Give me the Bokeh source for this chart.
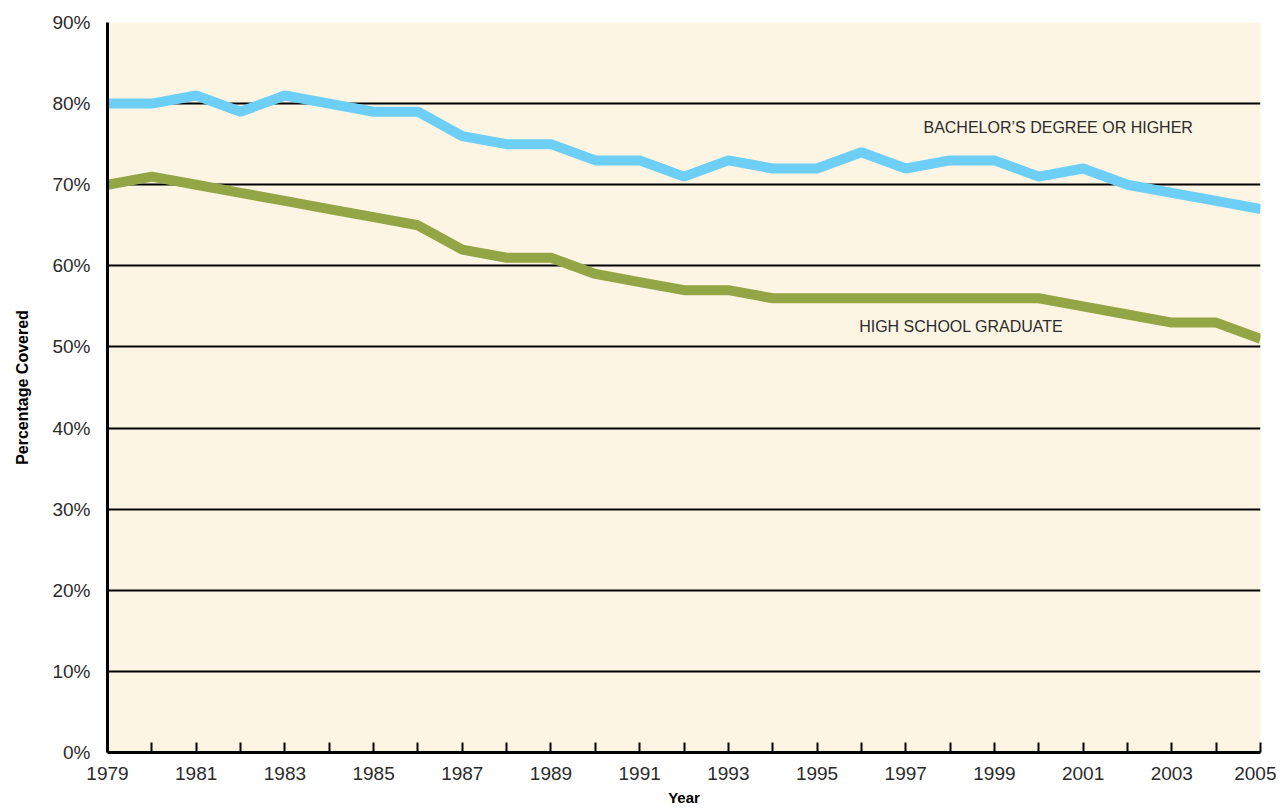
from bokeh.plotting import figure
from bokeh.models import FixedTicker, ColumnDataSource
from bokeh.embed import file_html
from bokeh.resources import INLINE
from bokeh.core.properties import value

years = list(range(1979, 2006))
bachelors = [80, 80, 81, 79, 81, 80, 79, 79, 76, 75, 75, 73, 73, 71, 73, 72, 72, 74, 72, 73, 73, 71, 72, 70, 69, 68, 67]
high_school = [70, 71, 70, 69, 68, 67, 66, 65, 62, 61, 61, 59, 58, 57, 57, 56, 56, 56, 56, 56, 56, 56, 55, 54, 53, 53, 51]
y_ticks = [0, 10, 20, 30, 40, 50, 60, 70, 80, 90]
series_labels = ["BACHELOR\u2019S DEGREE OR HIGHER", "HIGH SCHOOL GRADUATE"]

FONT = "Liberation Sans"
TXT = "#2b2b2b"

p = figure(width=1276, height=812, output_backend="svg", toolbar_location=None,
           x_range=(1979, 2005), y_range=(0, 90),
           min_border_left=107, min_border_right=16, min_border_top=22, min_border_bottom=60)
p.background_fill_color = "#fdf5e4"
p.border_fill_color = "white"
p.outline_line_color = None

src = ColumnDataSource(dict(year=years, ba=bachelors, hs=high_school))
p.line("year", "ba", source=src, line_color="#6dcff6", line_width=10)
p.line("year", "hs", source=src, line_color="#94a545", line_width=10)

p.text(x=[1997.4], y=[77.1], text=[series_labels[0]], text_font=value(FONT),
       text_font_size="16px", text_color=TXT, text_align="left", text_baseline="middle")
p.text(x=[1995.95], y=[52.5], text=[series_labels[1]], text_font=value(FONT),
       text_font_size="16px", text_color=TXT, text_align="left", text_baseline="middle")

# grid
p.xgrid.grid_line_color = None
p.ygrid.ticker = FixedTicker(ticks=y_ticks)
p.ygrid.grid_line_color = "black"
p.ygrid.grid_line_width = 2

# x axis
xa = p.xaxis[0]
xa.ticker = FixedTicker(ticks=years)
xa.major_label_overrides = {y: (str(y) if (y - 1979) % 2 == 0 else "") for y in years}
xa.major_tick_in = 10
xa.major_tick_out = 0
xa.minor_tick_line_color = None
xa.major_tick_line_width = 2
xa.axis_line_width = 3
xa.axis_line_color = "black"
xa.major_tick_line_color = "black"
xa.major_label_text_font = FONT
xa.major_label_text_font_size = "19px"
xa.major_label_text_color = TXT
xa.major_label_standoff = 14
xa.axis_label = "Year"
xa.axis_label_text_font = FONT
xa.axis_label_text_font_style = "bold"
xa.axis_label_text_font_size = "15px"
xa.axis_label_text_color = "black"
xa.axis_label_standoff = 6

# y axis
ya = p.yaxis[0]
ya.ticker = FixedTicker(ticks=y_ticks)
ya.major_label_overrides = {t: f"{t}%" for t in y_ticks}
ya.major_tick_in = 0
ya.major_tick_out = 0
ya.minor_tick_line_color = None
ya.axis_line_width = 3
ya.axis_line_color = "black"
ya.major_label_text_font = FONT
ya.major_label_text_font_size = "19px"
ya.major_label_text_color = TXT
ya.major_label_standoff = 17
ya.axis_label = "Percentage Covered"
ya.axis_label_text_font = FONT
ya.axis_label_text_font_style = "bold"
ya.axis_label_text_font_size = "16px"
ya.axis_label_text_color = "black"
ya.axis_label_standoff = 18

open("out.html", "w").write(file_html(p, INLINE))
